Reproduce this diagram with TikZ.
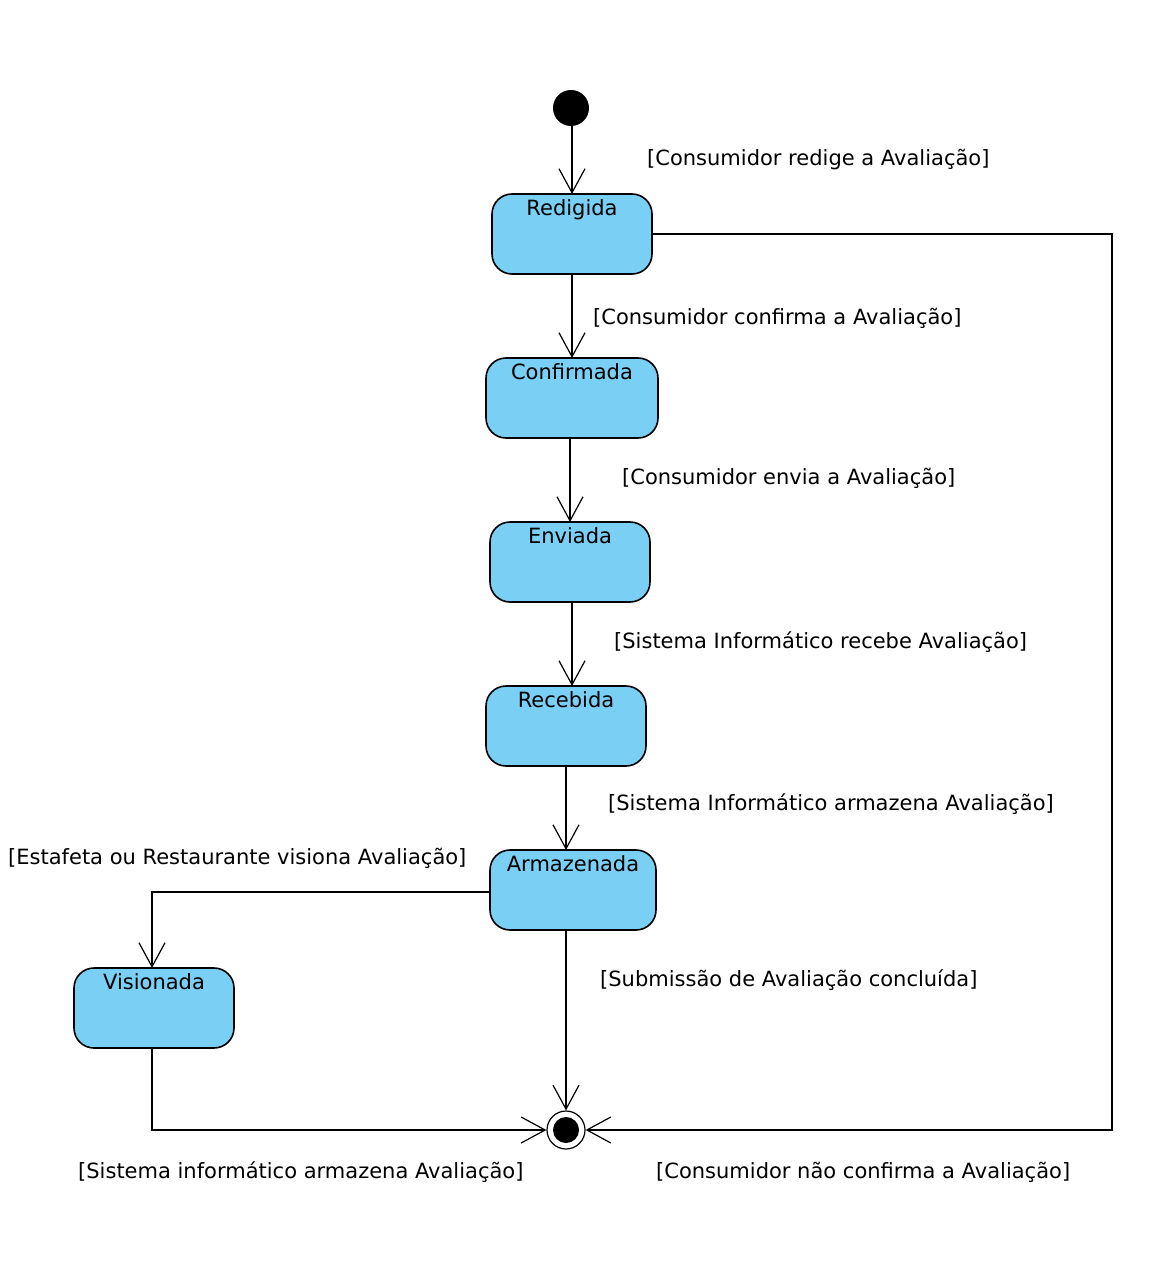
\documentclass[tikz,border=0pt]{standalone}
\usepackage{fontspec}
\setmainfont{DejaVu Sans}
\usetikzlibrary{arrows.meta}
\definecolor{statefill}{RGB}{122,207,245}
\begin{document}
\begin{tikzpicture}[x=1pt,y=-1pt,
  every node/.style={font=\fontsize{21}{24}\selectfont},
  state/.style={draw,line width=1.6pt,fill=statefill,rounded corners=20pt,minimum width=160pt,minimum height=80pt,inner sep=0pt},
  statename/.style={anchor=north,yshift=-3pt},
  tlabel/.style={anchor=west,inner sep=0pt},
  flow/.style={line width=1.2pt,-{Straight Barb[length=24pt,width=26pt,line width=1.2pt]}}]
\useasboundingbox (0,0) rectangle (1148,1268);

% initial pseudo-state
\fill (571,108) circle (18);
\coordinate (initb) at (572,126);

% states
\node[state] (red) at (572,234) {};
\node[statename] at (red.north) {Redigida};
\node[state,minimum width=172pt] (conf) at (572,398) {};
\node[statename] at (conf.north) {Confirmada};
\node[state] (env) at (570,562) {};
\node[statename] at (env.north) {Enviada};
\node[state] (rec) at (566,726) {};
\node[statename] at (rec.north) {Recebida};
\node[state,minimum width=166pt] (arm) at (573,890) {};
\node[statename] at (arm.north) {Armazenada};
\node[state] (vis) at (154,1008) {};
\node[statename] at (vis.north) {Visionada};

% final pseudo-state
\node[draw,circle,line width=1.2pt,minimum size=38pt,inner sep=0pt] (fin) at (566,1130) {};
\fill (fin.center) circle (13);

% transitions
\draw[flow] (initb) -- (572,194);
\draw[flow] (572,274) -- (572,358);
\draw[flow] (570,438) -- (570,522);
\draw[flow] (572,602) -- (572,686);
\draw[flow] (566,766) -- (566,850);
\draw[flow] (arm.south -| fin.north) -- (fin.north);
\draw[flow] (arm.west |- 0,892) -| (152,968);
\draw[flow] (152,1048) |- (fin.west);
\draw[flow] (red.east) -| (1112,1130) -- (fin.east);

% guards
\node[tlabel] at (647,160) {[Consumidor redige a Avaliação]};
\node[tlabel] at (593,318) {[Consumidor confirma a Avaliação]};
\node[tlabel] at (622,478) {[Consumidor envia a Avaliação]};
\node[tlabel] at (614,642) {[Sistema Informático recebe Avaliação]};
\node[tlabel] at (608,804) {[Sistema Informático armazena Avaliação]};
\node[tlabel] at (8,858) {[Estafeta ou Restaurante visiona Avaliação]};
\node[tlabel] at (600,980) {[Submissão de Avaliação concluída]};
\node[tlabel] at (78,1172) {[Sistema informático armazena Avaliação]};
\node[tlabel] at (656,1172) {[Consumidor não confirma a Avaliação]};
\end{tikzpicture}
\end{document}
